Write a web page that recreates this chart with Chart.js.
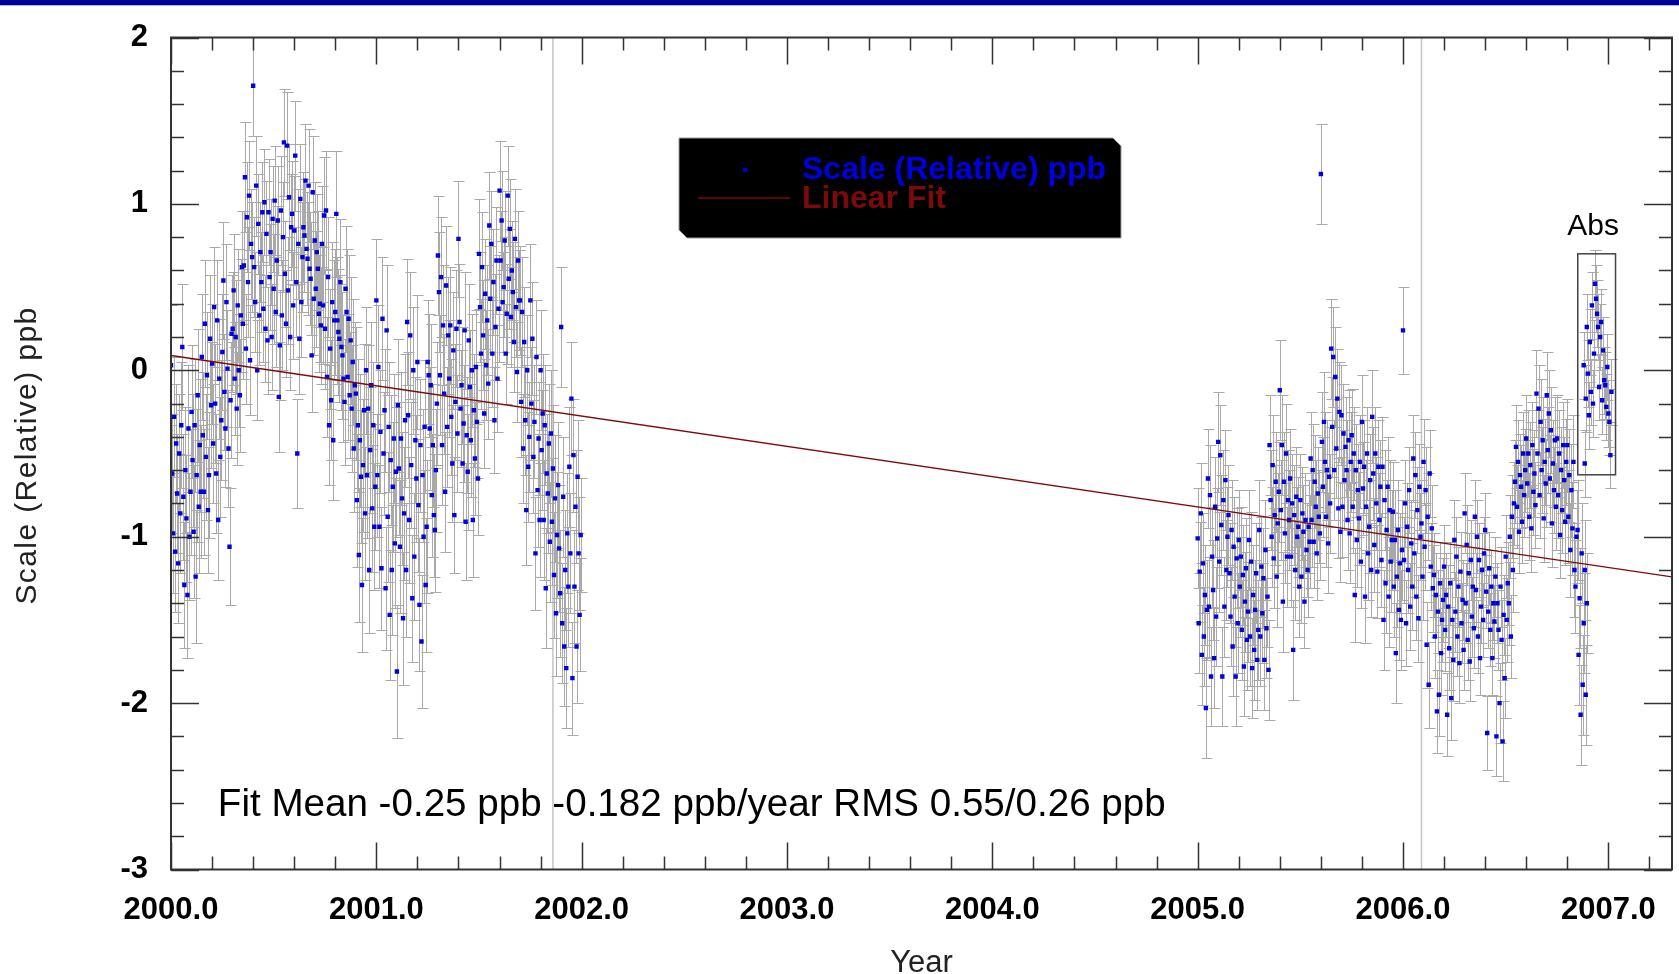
<!DOCTYPE html>
<html>
<head>
<meta charset="utf-8">
<script src="https://cdn.jsdelivr.net/npm/chart.js@4.4.0/dist/chart.umd.min.js"></script>
<style>
html, body { margin: 0; padding: 0; background: #fff; }
</style>
</head>
<body>
<canvas id="myChart" width="1679" height="974"></canvas>
<script>
// sampling of the relative series: one value every 0.005 year
const sampleStep = 0.005;
const earlyStart = 2000.0;
const lateStart = 2005.0;
const absStart = 2006.88;

// 2000.0 - 2002.0, ten values per 0.05 year
const earlyScale = [
  0.03, -0.62, -0.98, -0.28, -1.09, -0.44, -0.74, -1.16, -0.5, -0.86,
  -0.33, 0.14, -0.76, -1.29, -0.6, -0.89, -1.35, -0.35, -1.0, -0.73,
  -0.25, -0.54, -0.97, -0.33, -1.24, -0.63, -0.15, -0.82, -0.45, -0.73,
  0.08, -0.39, -0.73, 0.28, -0.52, -0.03, -0.84, -0.63, 0.19, -0.21,
  0.04, -0.44, 0.38, -0.2, -0.62, 0.3, -0.9, -0.05, -0.52, -0.3,
  0.11, 0.54, -0.13, -0.35, 0.41, 0.01, -0.47, -1.06, -0.18, 0.22,
  0.25, 0.48, -0.05, 0.2, -0.23, 0.39, 0.0, -0.15, 0.33, 0.62,
  0.28, 0.63, 1.16, 0.13, 0.92, 0.53, 1.05, 0.06, 0.76, 0.68,
  1.71, 0.62, 0.41, 1.11, 0.0, 0.88, 0.33, 0.71, 0.53, 0.95,
  0.37, 1.01, 0.25, 0.82, 0.18, 0.95, 0.56, 0.71, 0.2, 0.91,
  0.49, 1.02, 0.35, 0.66, 0.9, -0.16, 0.15, 0.96, 0.33, 0.8,
  1.37, 0.58, 0.28, 1.35, 0.48, 1.04, 0.2, 0.86, 0.94, 0.39,
  0.84, 1.29, 0.53, -0.5, 0.76, 0.19, 1.03, 0.41, 0.68, 0.86,
  0.81, 1.14, 0.73, 0.67, 1.11, 0.61, 0.55, 0.09, 1.07, 0.43,
  0.78, 0.49, 0.71, 0.61, 0.34, 0.4, 0.27, 0.76, 0.39, 0.93,
  0.25, 0.96, -0.04, 0.56, -0.33, 0.13, -0.18, 0.41, -0.42, 0.3,
  0.35, 0.94, 0.3, 0.23, 0.19, 0.53, 0.14, 0.09, -0.05, -0.19,
  0.49, 0.35, -0.04, 0.31, -0.15, 0.18, -0.23, 0.05, -0.47, -0.09,
  -0.14, -0.78, -0.33, -1.11, -0.42, -0.64, -1.29, -0.57, -0.24, -0.86,
  0.0, -0.63, -0.23, -1.2, -0.48, -0.09, -0.83, -0.33, -0.94, -0.7,
  0.42, -0.63, 0.02, -0.94, -0.37, -1.19, 0.31, -0.5, -0.24, -1.31,
  0.24, -0.88, -0.34, -1.47, -0.54, -1.2, -0.7, -0.41, -1.04, -0.61,
  -1.81, -0.21, -0.59, -1.06, -0.41, -0.77, -1.49, -0.86, -0.3, -1.2,
  0.29, -0.27, -0.9, 0.21, -0.57, -1.37, 0.0, -1.12, -0.42, -0.65,
  0.05, -0.81, -1.41, -0.45, -1.63, -0.63, -1.0, -0.34, -1.29, -0.94,
  0.05, -0.03, -0.35, -0.09, -0.75, -0.45, -0.87, -0.96, -0.6, -0.2,
  0.69, 0.47, -0.03, 0.56, -0.45, 0.27, -0.14, -0.73, 0.51, -0.34,
  0.21, -0.05, 0.27, -0.28, -0.56, 0.12, -0.87, -0.19, 0.25, -0.38,
  0.79, 0.29, -0.23, -0.09, -0.56, -0.32, 0.24, -0.91, -0.39, -0.61,
  0.18, -0.1, -0.42, 0.0, -0.9, -0.24, -0.53, 0.02, -0.31, -0.65,
  0.7, 0.38, 0.1, 0.62, 0.21, -0.26, 0.46, 0.03, 0.3, -0.08,
  0.87, 0.43, 0.76, 0.1, 0.53, -0.3, 0.26, 0.66, -0.05, 0.37,
  1.08, 0.66, 0.9, 0.41, 0.5, 0.78, 0.1, 0.34, 1.05, 0.55,
  0.85, 0.32, 0.6, 0.47, 0.17, 0.79, 0.38, -0.01, 0.66, 0.42,
  0.42, -0.19, 0.35, -0.47, 0.17, -0.3, -0.84, 0.0, -0.58, -0.4,
  0.42, -0.2, 0.19, -0.52, -0.31, -1.1, 0.08, -0.72, -0.41, -0.9,
  0.0, -0.48, -0.26, -0.9, -0.33, -1.31, -0.62, -0.74, -0.44, -1.03,
  -0.38, -0.91, -0.59, -1.23, -0.77, -1.46, -0.99, -0.69, -1.07, -1.34,
  0.26, -1.52, -0.76, -1.66, -1.2, -1.79, -0.98, -1.3, -0.58, -1.1,
  -0.17, -1.85, -0.51, -1.3, -0.82, -1.66, -0.64, -1.1, -1.47, -0.99
];

// 2005.0 - 2006.9
const lateScale = [
  -1.01, -1.52, -1.21, -0.86, -1.71, -1.16, -1.6, -1.35, -2.03, -1.44,
  -0.65, -1.42, -0.75, -1.84, -1.12, -1.32, -1.73, -0.82, -1.48, -1.01,
  -0.43, -1.15, -0.51, -0.93, -1.84, -0.78, -1.42, -0.66, -1.2, -1.0,
  -0.87, -1.22, -1.48, -0.96, -1.66, -1.06, -1.36, -1.84, -1.13, -1.52,
  -1.02, -1.3, -1.12, -1.56, -1.23, -1.78, -1.39, -1.19, -1.62, -1.45,
  -1.02, -1.6, -1.15, -1.79, -1.35, -1.68, -1.44, -1.22, -1.74, -1.56,
  -0.96, -1.6, -1.18, -1.46, -1.25, -1.74, -1.08, -1.55, -1.36, -1.8,
  -0.45, -0.78, -1.0, -0.57, -1.13, -0.87, -0.67, -1.24, -0.92, -0.73,
  -0.12, -0.84, -0.45, -1.39, -0.67, -0.98, -0.5, -1.12, -0.78, -0.9,
  -0.65, -1.12, -0.8, -1.68, -0.87, -1.2, -0.76, -1.0, -0.94, -1.3,
  -0.78, -1.24, -0.86, -0.97, -1.39, -0.9, -1.08, -1.2, -0.94, -1.03,
  -0.53, -0.9, -0.6, -1.03, -0.67, -0.82, -1.1, -0.74, -0.88, -0.98,
  1.18, -0.43, -0.7, -0.31, -0.55, -0.88, -0.6, -1.04, -0.64, -0.8,
  0.13, -0.34, 0.08, -0.6, -0.04, -0.47, -0.17, -0.83, -0.25, -0.97,
  -0.27, -0.82, -0.38, -0.66, -0.46, -0.6, -0.9, -0.42, -0.98, -0.55,
  -0.39, -0.82, -0.5, -1.35, -0.6, -1.02, -0.72, -0.89, -0.55, -1.15,
  -0.31, -0.71, -0.58, -1.36, -0.82, -0.5, -1.1, -0.94, -0.66, -1.2,
  -0.28, -0.62, -1.05, -0.5, -0.8, -1.21, -0.58, -0.9, -0.7, -1.14,
  -0.58, -1.5, -0.78, -1.28, -0.96, -0.7, -1.36, -0.84, -1.15, -1.02,
  -0.85, -1.3, -1.02, -1.7, -1.24, -0.96, -1.44, -1.16, -1.5, -1.08,
  0.24, -1.14, -0.8, -1.52, -0.94, -1.2, -0.72, -1.42, -1.04, -1.3,
  -0.53, -1.1, -0.63, -1.36, -0.84, -1.49, -0.7, -1.0, -0.92, -1.24,
  -0.55, -1.06, -0.72, -1.65, -0.88, -1.89, -0.62, -1.18, -0.95, -1.31,
  -1.23, -1.6, -1.35, -2.05, -1.45, -1.95, -1.28, -1.7, -1.5, -1.38,
  -1.18, -1.56, -1.35, -2.07, -1.42, -1.67, -1.28, -1.97, -1.5, -1.74,
  -1.02, -1.45, -1.12, -1.6, -1.3, -1.76, -1.21, -1.52, -1.38, -1.68,
  -0.86, -1.4, -1.05, -1.62, -1.22, -1.75, -1.14, -1.48, -1.3, -1.55,
  -0.88, -1.32, -1.0, -1.6, -1.14, -1.73, -1.42, -1.2, -1.5, -1.1,
  -0.96, -1.33, -2.18, -1.45, -1.19, -1.56, -1.3, -1.73, -1.4, -1.51,
  -1.24, -2.2, -1.4, -1.56, -2.0, -1.3, -1.62, -2.23, -1.47, -1.85,
  -1.12, -1.5, -1.28, -1.4, -1.0, -1.6, -0.88, -1.2, -0.8, -0.67,
  -0.46, -0.82, -0.55, -0.97, -0.63, -0.7, -0.91, -0.5, -0.75, -0.6,
  -0.41, -0.68, -0.5, -0.88, -0.57, -0.95, -0.45, -0.73, -0.62, -0.81,
  -0.14, -0.5, -0.23, -0.75, -0.31, -0.6, -0.42, -0.89, -0.55, -0.68,
  -0.15, -0.48, -0.26, -0.65, -0.36, -0.92, -0.56, -0.72, -0.42, -0.82,
  -0.41, -0.75, -0.5, -0.99, -0.6, -0.84, -0.45, -0.66, -0.91, -0.55,
  -0.45, -0.88, -0.63, -1.08, -0.72, -0.95, -0.55, -1.2, -1.3, -1.0,
  -0.96, -1.71, -1.37, -2.07, -1.1, -1.89, -1.52, -1.2, -1.95, -1.4
];

// absolute calibration points (boxed "Abs")
const absScale = [
  0.03, -0.56, -0.17, 0.26, -0.02, -0.27, 0.17, -0.13, 0.39, -0.2,
  0.1, 0.52, 0.43, 0.34, 0.26, -0.1, 0.2, 0.29, -0.18, 0.12,
  -0.06, -0.09, -0.22, 0.02, -0.26, -0.31, -0.51, -0.13
];

// error half-widths, one per 0.05 year group
const earlyErr = [
  0.36, 0.38, 0.4, 0.38, 0.36, 0.35, 0.34, 0.33, 0.3, 0.32,
  0.33, 0.32, 0.33, 0.34, 0.35, 0.36, 0.38, 0.38, 0.4, 0.38,
  0.37, 0.39, 0.4, 0.38, 0.4, 0.37, 0.36, 0.35, 0.35, 0.34,
  0.33, 0.32, 0.3, 0.3, 0.33, 0.34, 0.36, 0.38, 0.36, 0.34
];
const lateErr = [
  0.3, 0.3, 0.3, 0.3, 0.3, 0.3, 0.3, 0.3, 0.3, 0.3,
  0.28, 0.28, 0.3, 0.3, 0.3, 0.28, 0.28, 0.28, 0.3, 0.3,
  0.26, 0.26, 0.26, 0.25, 0.25, 0.24, 0.24, 0.22, 0.22, 0.24,
  0.25, 0.25, 0.26, 0.26, 0.26, 0.26, 0.28, 0.3
];
const absErr = [0.2, 0.2, 0.2];

const fitYears = [2000.0, 2007.31];
const fitValues = [0.089, -1.241];
const markerYears = [2001.86, 2006.09];
const absBoxYears = [2006.851, 2007.035];
const absBoxValues = [-0.628, 0.70];

const xTickValues = [2000, 2001, 2002, 2003, 2004, 2005, 2006, 2007];
const xTickLabels = ["2000.0", "2001.0", "2002.0", "2003.0", "2004.0", "2005.0", "2006.0", "2007.0"];
const yTickValues = [-3, -2, -1, 0, 1, 2];
const yTickLabels = ["-3", "-2", "-1", "0", "1", "2"];
const yTitle = "Scale (Relative) ppb";

const FONT = '"Liberation Sans", Arial, sans-serif';
const BLUE = "#0000dd";
const FIT_RED = "#7d0a0a";

function toPoints(start, values, errs) {
  return values.map((v, i) => ({
    x: +(start + i * sampleStep).toFixed(3),
    y: v,
    e: errs[Math.floor(i / 10)]
  }));
}

const pointStyle = {
  showLine: false,
  pointStyle: "rect",
  pointRadius: 3.1,
  pointBorderWidth: 0,
  backgroundColor: BLUE,
  borderColor: BLUE,
  errorBars: true,
  order: 2
};

const errorBars = {
  id: "errorBars",
  beforeDatasetDraw(chart, args) {
    const ds = chart.data.datasets[args.index];
    if (!ds.errorBars) return;
    const { ctx, chartArea: a } = chart;
    const ys = chart.scales.y;
    ctx.save();
    ctx.beginPath();
    ctx.rect(a.left, a.top, a.right - a.left, a.bottom - a.top);
    ctx.clip();
    ctx.strokeStyle = "#a9a9a9";
    ctx.lineWidth = 1;
    ctx.beginPath();
    args.meta.data.forEach((pt, i) => {
      const d = ds.data[i];
      const x = Math.round(pt.x) + 0.5;
      const y1 = Math.round(ys.getPixelForValue(d.y + d.e)) + 0.5;
      const y2 = Math.round(ys.getPixelForValue(d.y - d.e)) + 0.5;
      ctx.moveTo(x, y1); ctx.lineTo(x, y2);
      ctx.moveTo(x - 5, y1); ctx.lineTo(x + 6, y1);
      ctx.moveTo(x - 5, y2); ctx.lineTo(x + 6, y2);
    });
    ctx.stroke();
    ctx.restore();
  }
};

const decorations = {
  id: "decorations",
  afterDraw(chart) {
    const { ctx, chartArea: a, scales: { x, y } } = chart;
    ctx.save();

    // band along the top of the page
    ctx.fillStyle = "#000096";
    ctx.fillRect(0, 0, chart.width, 5);
    ctx.fillStyle = "#b8b8de";
    ctx.fillRect(0, 5, chart.width, 1);

    // frame
    ctx.strokeStyle = "#333";
    ctx.lineWidth = 2;
    ctx.strokeRect(a.left, a.top, a.right - a.left, a.bottom - a.top);

    // inward ticks on all four sides
    ctx.lineWidth = 1.5;
    ctx.beginPath();
    for (let k = 0; k <= 40; k++) {
      const v = 2000 + k * 0.2;
      if (v > x.max + 1e-6) break;
      const px = Math.round(x.getPixelForValue(v)) + 0.5;
      const len = k % 5 === 0 ? 27 : 13;
      ctx.moveTo(px, a.bottom); ctx.lineTo(px, a.bottom - len);
      ctx.moveTo(px, a.top); ctx.lineTo(px, a.top + len);
    }
    for (let k = 0; k <= 25; k++) {
      const v = -3 + k * 0.2;
      const py = Math.round(y.getPixelForValue(v)) + 0.5;
      const len = k % 5 === 0 ? 28 : 13;
      ctx.moveTo(a.left, py); ctx.lineTo(a.left + len, py);
      ctx.moveTo(a.right, py); ctx.lineTo(a.right - len, py);
    }
    ctx.stroke();

    // y axis title, slightly tracked like the original
    ctx.save();
    ctx.translate(36, (a.top + a.bottom) / 2 + 2);
    ctx.rotate(-Math.PI / 2);
    ctx.font = "30px " + FONT;
    if ("letterSpacing" in ctx) ctx.letterSpacing = "1.4px";
    ctx.fillStyle = "#222";
    ctx.textAlign = "center";
    ctx.textBaseline = "alphabetic";
    ctx.fillText(yTitle, 0, 0);
    ctx.restore();

    // Abs box and label
    const bx1 = x.getPixelForValue(absBoxYears[0]);
    const bx2 = x.getPixelForValue(absBoxYears[1]);
    const by1 = y.getPixelForValue(absBoxValues[1]);
    const by2 = y.getPixelForValue(absBoxValues[0]);
    ctx.strokeStyle = "#444";
    ctx.lineWidth = 1.5;
    ctx.strokeRect(bx1, by1, bx2 - bx1, by2 - by1);
    ctx.fillStyle = "#000";
    ctx.font = "30px " + FONT;
    ctx.textAlign = "center";
    ctx.textBaseline = "middle";
    ctx.fillText("Abs", x.getPixelForValue(2006.926), y.getPixelForValue(0.86));

    // fit summary
    ctx.font = "38.6px " + FONT;
    ctx.textAlign = "left";
    ctx.fillText("Fit Mean -0.25 ppb -0.182 ppb/year RMS 0.55/0.26 ppb",
      x.getPixelForValue(2000.228), y.getPixelForValue(-2.615));

    // legend box with cut corners
    const L = 679, T = 138, R = 1121, B = 238, c = 8;
    ctx.beginPath();
    ctx.moveTo(L, T); ctx.lineTo(R - c, T); ctx.lineTo(R, T + c);
    ctx.lineTo(R, B); ctx.lineTo(L + c, B); ctx.lineTo(L, B - c);
    ctx.closePath();
    ctx.fillStyle = "#000";
    ctx.fill();
    ctx.strokeStyle = "#999";
    ctx.lineWidth = 1;
    ctx.stroke();

    const sets = chart.data.datasets;
    ctx.fillStyle = BLUE;
    ctx.fillRect(743, 168, 4, 4);
    ctx.strokeStyle = FIT_RED;
    ctx.lineWidth = 1.3;
    ctx.beginPath();
    ctx.moveTo(698, 198); ctx.lineTo(790, 198);
    ctx.stroke();
    ctx.font = "bold 32px " + FONT;
    ctx.textBaseline = "middle";
    ctx.fillStyle = BLUE;
    ctx.fillText(sets[0].label, 802, 170);
    ctx.fillStyle = FIT_RED;
    ctx.fillText(sets[3].label, 802, 199);

    ctx.restore();
  }
};

new Chart("myChart", {
  type: "scatter",
  data: {
    datasets: [
      Object.assign({ label: "Scale (Relative) ppb", data: toPoints(earlyStart, earlyScale, earlyErr) }, pointStyle),
      Object.assign({ label: "Scale (Relative) ppb", data: toPoints(lateStart, lateScale, lateErr) }, pointStyle),
      Object.assign({ label: "Scale (Relative) ppb", data: toPoints(absStart, absScale, absErr) }, pointStyle),
      {
        label: "Linear Fit",
        data: fitYears.map((t, i) => ({ x: t, y: fitValues[i] })),
        showLine: true,
        borderColor: FIT_RED,
        borderWidth: 1.3,
        pointRadius: 0,
        order: 1
      },
      ...markerYears.map(t => ({
        label: "marker",
        data: [{ x: t, y: -3 }, { x: t, y: 2 }],
        showLine: true,
        borderColor: "#c4c4c4",
        borderWidth: 1.5,
        pointRadius: 0,
        order: 5
      }))
    ]
  },
  options: {
    responsive: false,
    animation: false,
    devicePixelRatio: 1,
    events: [],
    layout: { padding: { top: 37.5, right: 7, left: 0, bottom: 0 } },
    plugins: {
      legend: { display: false },
      tooltip: { enabled: false }
    },
    scales: {
      x: {
        type: "linear",
        min: 2000,
        max: 2007.31,
        afterFit(scale) { scale.height = 104.5; },
        afterBuildTicks(scale) { scale.ticks = xTickValues.map(v => ({ value: v })); },
        grid: { display: false, drawTicks: false },
        border: { display: false },
        ticks: {
          autoSkip: false,
          maxRotation: 0,
          padding: 22,
          color: "#000",
          font: { family: FONT, size: 31, weight: "bold" },
          callback: v => xTickLabels[xTickValues.indexOf(v)]
        },
        title: {
          display: true,
          text: "Year",
          color: "#222",
          font: { family: FONT, size: 31, lineHeight: 1 },
          padding: { top: 0, bottom: -5 }
        }
      },
      y: {
        min: -3,
        max: 2,
        afterFit(scale) { scale.width = 171; },
        afterBuildTicks(scale) { scale.ticks = yTickValues.map(v => ({ value: v })); },
        grid: { display: false, drawTicks: false },
        border: { display: false },
        ticks: {
          padding: 23,
          color: "#000",
          font: { family: FONT, size: 31, weight: "bold", lineHeight: 0.8 },
          callback: v => yTickLabels[yTickValues.indexOf(v)]
        },
        title: { display: false }
      }
    }
  },
  plugins: [errorBars, decorations]
});
</script>
</body>
</html>
